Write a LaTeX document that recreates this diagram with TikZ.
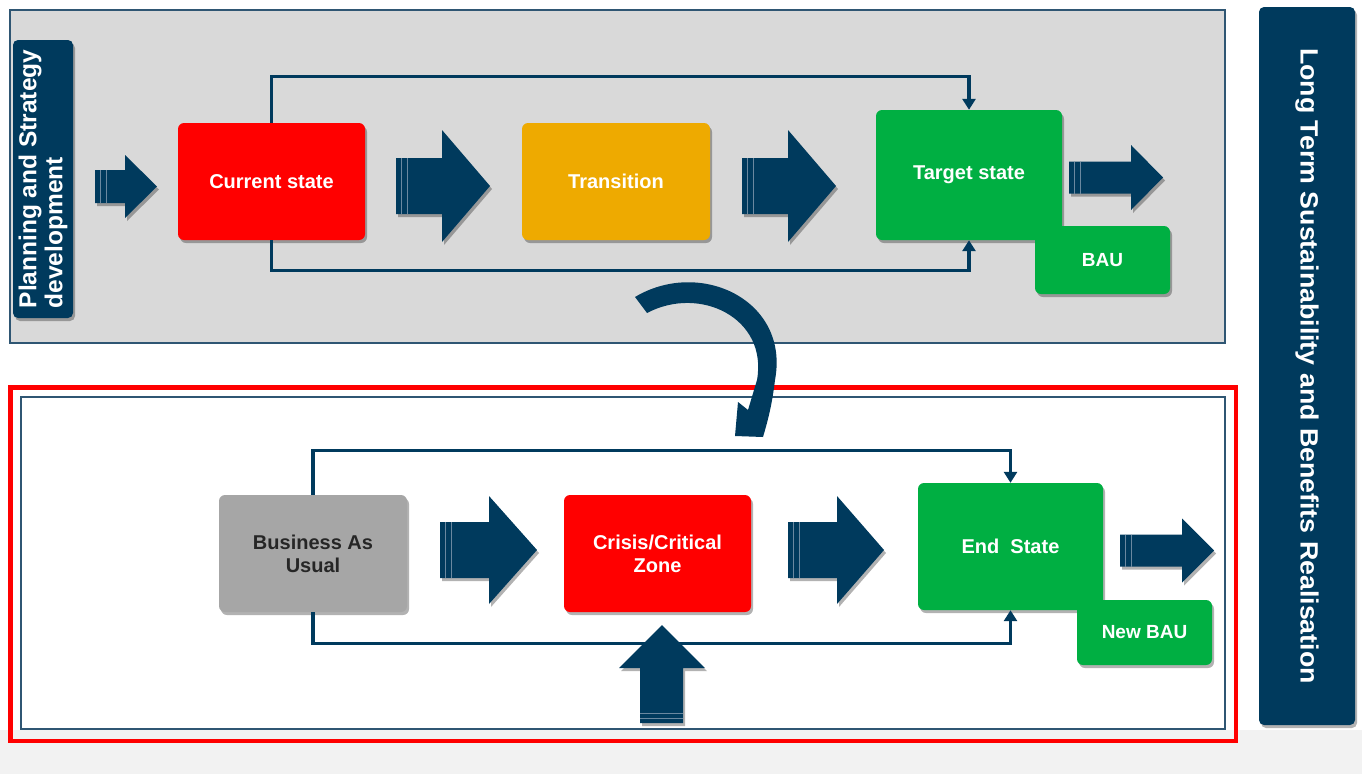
\documentclass[tikz,border=0pt]{standalone}
\usepackage{fontspec}
\setmainfont{Liberation Sans}
\usetikzlibrary{shadows,arrows.meta,calc}
\definecolor{navy}{HTML}{003A5D}
\definecolor{boxred}{HTML}{FF0000}
\definecolor{boxorange}{HTML}{EEAA00}
\definecolor{boxgreen}{HTML}{00AF42}
\definecolor{boxgray}{HTML}{A6A6A6}
\definecolor{panelgray}{HTML}{D9D9D9}
\definecolor{panelline}{HTML}{2F5673}
\definecolor{stripecol}{HTML}{6A88A0}
\definecolor{bgstrip}{HTML}{F2F2F2}
\tikzset{
  shad/.style={drop shadow={shadow xshift=2pt,shadow yshift=-3pt,opacity=0.3,fill=black}},
  stbox/.style={rounded corners=6pt, inner sep=0pt, align=center, text=white,
    font=\fontsize{20}{23}\selectfont\bfseries, shad},
  label/.style={fill=navy, rounded corners=5pt, inner sep=0pt, text=white, shad},
  conn/.style={draw=navy, line width=3.2pt, -{Triangle[width=13pt,length=11pt]}},
  blk/.style={fill=navy, shad},
  stripe/.style={draw=stripecol, line width=1pt}
}
% x0 xh x1 yc shafthalf headhalf
\newcommand\rblk[6]{%
  \fill[blk] (#1,#4-#5) -- (#2,#4-#5) -- (#2,#4-#6) -- (#3,#4) -- (#2,#4+#6) -- (#2,#4+#5) -- (#1,#4+#5) -- cycle;
  \draw[stripe] (#1+5,#4-#5) -- (#1+5,#4+#5) (#1+11,#4-#5) -- (#1+11,#4+#5);
}
\begin{document}
\begin{tikzpicture}[x=1pt,y=-1pt]
\useasboundingbox (0,0) rectangle (1362,774);
\fill[white] (0,0) rectangle (1362,774);
\fill[bgstrip] (0,730) rectangle (1362,774);

% panels
\draw[panelline, line width=1.2pt, fill=panelgray] (10,10) rectangle (1225,343);
\draw[panelline, line width=1.5pt, fill=white] (21,397) rectangle (1225,729);
\draw[boxred, line width=4.5pt] (10.5,387.5) rectangle (1236,741);

% side labels
\node[label, rotate=90, minimum width=278pt, minimum height=60pt, align=left,
  font=\fontsize{24.5}{26}\selectfont\bfseries] (plan) at (43,179)
  {Planning and Strategy\\development};
\node[label, rotate=-90, minimum width=718pt, minimum height=96pt,
  font=\fontsize{25}{28}\selectfont\bfseries] (lts) at (1307,366)
  {\scalebox{1.07}[1]{Long Term Sustainability and Benefits Realisation}};

% top row boxes
\node[stbox, fill=boxred, minimum width=187pt, minimum height=117pt] (cur) at (271.5,181.5) {Current state};
\node[stbox, fill=boxorange, minimum width=188pt, minimum height=117pt] (trans) at (616,181.5) {Transition};
\node[stbox, fill=boxgreen, minimum width=186pt, minimum height=130pt] (tgt) at (969,175) {\raisebox{-3pt}{Target state}};
\node[stbox, fill=boxgreen, minimum width=135pt, minimum height=68pt, font=\fontsize{19}{22}\selectfont\bfseries] (bau) at (1102.5,260) {BAU};

% bottom row boxes
\node[stbox, fill=boxgray, text=black!85, minimum width=188pt, minimum height=117pt] (busu) at (313,553.5) {Business As\\Usual};
\node[stbox, fill=boxred, minimum width=187pt, minimum height=117pt] (crisis) at (657.5,553.5) {Crisis/Critical\\Zone};
\node[stbox, fill=boxgreen, minimum width=185pt, minimum height=127pt] (endst) at (1010.5,546.5) {\raisebox{-2pt}{End~ State}};
\node[stbox, fill=boxgreen, minimum width=135pt, minimum height=65pt, font=\fontsize{19}{22}\selectfont\bfseries] (newbau) at (1144.5,632.5) {New BAU};

% connectors
\draw[conn] (cur.north) -- ++(0,-46) -| (tgt.north);
\draw[conn] (cur.south) -- ++(0,30) -| (tgt.south);
\draw[conn] (busu.north) -- ++(0,-44) -| (endst.north);
\draw[conn] (busu.south) -- ++(0,31) -| (endst.south);

% block arrows
\rblk{95}{125}{157}{186.5}{16.5}{31.5}
\rblk{396}{442}{490}{186}{28}{56}
\rblk{742}{788}{836}{186}{28}{56}
\rblk{1069}{1131}{1163}{177.5}{16}{32.5}
\rblk{440}{489}{537}{550}{28}{54}
\rblk{788}{837}{884}{550}{28}{54}
\rblk{1120}{1182}{1214}{550.5}{16}{32}

% up arrow
\fill[blk] (640,723) -- (640,668) -- (619,668) -- (662,625) -- (705,668) -- (683,668) -- (683,723) -- cycle;
\draw[stripe] (640,713) -- (683,713) (640,718) -- (683,718);

% curved arrow
\fill[navy] (635,297) .. controls (700,258) and (790,300) .. (775,380)
  .. controls (772,405) and (768,420) .. (763,437) -- (735,436) -- (738,402) -- (748,410)
  -- (757,380) .. controls (768,318) and (700,285) .. (647,313) -- cycle;
\end{tikzpicture}
\end{document}
